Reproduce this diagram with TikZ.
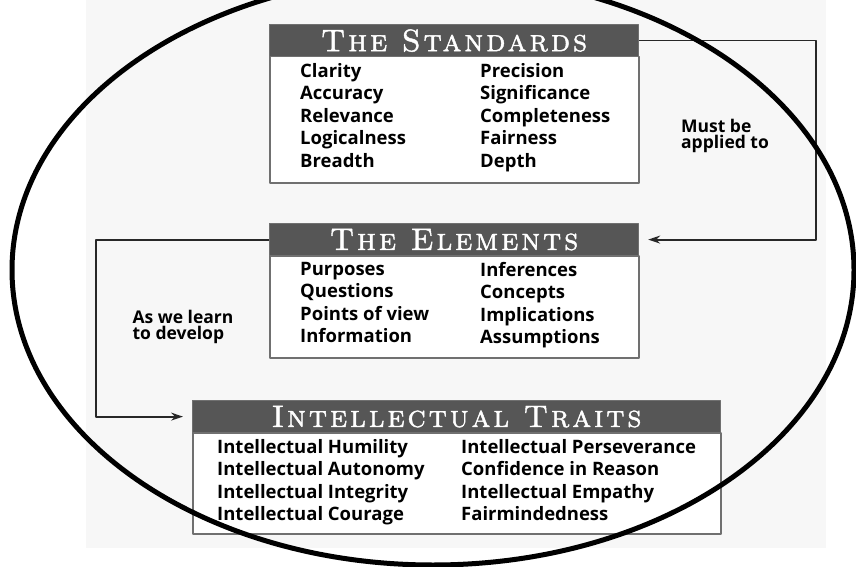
\documentclass[tikz,border=0pt]{standalone}
\usepackage{fontspec}
\newfontfamily\bodyfont{Open Sans}
\newfontfamily\headfont{lmromancaps10-regular}[Extension=.otf,LetterSpace=9,FakeBold=1.4]
\usetikzlibrary{arrows.meta}
\definecolor{headgray}{RGB}{86,86,86}
\definecolor{framegray}{RGB}{112,112,112}
\definecolor{linegray}{RGB}{40,40,40}
\definecolor{bgpale}{RGB}{247,247,247}
\tikzset{
	headbar/.style={fill=headgray, draw=framegray, line width=1.2pt, text=white, minimum height=32pt, inner sep=0pt, font=\headfont\fontsize{31}{31}\selectfont},
	panel/.style={fill=white, draw=framegray, line width=1.5pt},
	col/.style={align=left, inner sep=0pt, font=\bodyfont\bfseries\fontsize{18.5}{22.5}\selectfont},
	note/.style={align=left, inner sep=0pt, font=\bodyfont\bfseries\fontsize{17.5}{16}\selectfont},
	link/.style={draw=linegray, line width=1.8pt, shorten >=9pt}
}
\begin{document}
\begin{tikzpicture}[x=1pt, y=-1pt, line join=round, >={Stealth[length=12pt,width=8pt]}]
	\useasboundingbox (0,0) rectangle (856,567);
	\clip (0,0) rectangle (856,567);
	\fill[white] (0,0) rectangle (856,567);
	\fill[bgpale] (86,0) rectangle (826,548);
	\foreach \nm/\x/\y/\w/\h/\ttl in {std/269/24/369/126/The Standards, elm/269/223/369/102/The Elements, trt/192/400/528/101/Intellectual Traits}{
		\node[panel, minimum width=\w pt, minimum height=\h pt, anchor=north west] (\nm box) at (\x,\y+32) {};
		\node[headbar, minimum width=\w pt, anchor=north west] (\nm) at (\x,\y) {\ttl};
	}
	\node[col, anchor=north west] (stdL) at (300,63) {Clarity\\Accuracy\\Relevance\\Logicalness\\Breadth};
	\node[col, anchor=north west] (stdR) at (480,63) {Precision\\Significance\\Completeness\\Fairness\\Depth};
	\node[col, anchor=north west] (elmL) at (300,262) {Purposes\\Questions\\Points of view\\Information};
	\node[col, anchor=north west] (elmR) at (480,262) {Inferences\\Concepts\\Implications\\Assumptions};
	\node[col, anchor=north west] (trtL) at (217,439) {Intellectual Humility\\Intellectual Autonomy\\Intellectual Integrity\\Intellectual Courage};
	\node[col, anchor=north west] (trtR) at (461,439) {Intellectual Perseverance\\Confidence in Reason\\Intellectual Empathy\\Fairmindedness};
	\node[note] (must) at (725,136) {Must be\\applied to};
	\node[note] (learn) at (183,327) {As we learn\\to develop};
	\draw[link,->] (std.east) -- ++(177,0) |- (elm.east);
	\draw[link,->] (elm.west) -- ++(-173,0) |- (trt.west);
	\draw[line width=5pt] (433,270) ellipse [x radius=421, y radius=295];
\end{tikzpicture}
\end{document}
